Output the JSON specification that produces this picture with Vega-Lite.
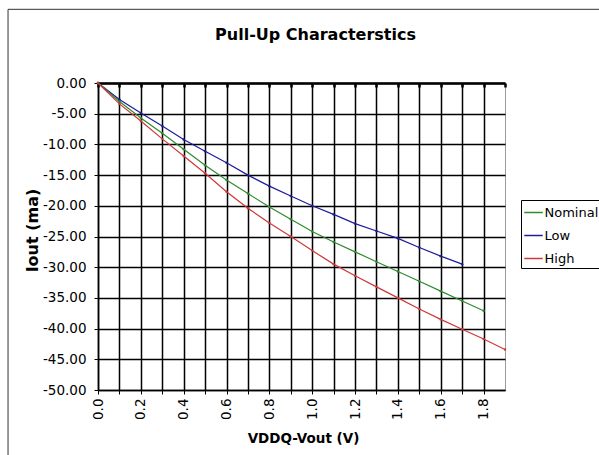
{
  "$schema": "https://vega.github.io/schema/vega-lite/v6.json",
  "width": 407,
  "height": 307,
  "autosize": {"type": "none"},
  "padding": {"left": 98, "top": 83, "right": 94, "bottom": 65},
  "background": "white",
  "title": {
    "text": "Pull-Up Characterstics",
    "font": "DejaVu Sans",
    "fontSize": 16,
    "fontWeight": "bold",
    "color": "black",
    "anchor": "middle",
    "frame": "group",
    "dx": 14,
    "baseline": "alphabetic",
    "offset": -47
  },
  "config": {
    "view": {"stroke": "#9a9a9a", "strokeWidth": 1},
    "axis": {
      "labelFont": "DejaVu Sans",
      "labelFontSize": 13.5,
      "labelColor": "black",
      "labelOverlap": false,
      "titleFont": "DejaVu Sans",
      "titleFontWeight": "bold",
      "titleColor": "black",
      "domainColor": "black",
      "tickColor": "black",
      "gridColor": "black",
      "gridOpacity": 1
    }
  },
  "resolve": {"axis": {"x": "independent"}},
  "layer": [
    {
      "data": {"values": [{}]},
      "mark": {"type": "rect", "fill": null, "stroke": "#333333", "strokeWidth": 1, "clip": false},
      "encoding": {
        "x": {"datum": -0.42, "type": "quantitative", "axis": null},
        "x2": {"datum": 2.6},
        "y": {
          "datum": 12,
          "type": "quantitative",
          "axis": {
            "values": [-50, -45, -40, -35, -30, -25, -20, -15, -10, -5, 0],
            "labelExpr": "replace(format(datum.value, '.2f'), '\u2212', '-')",
            "tickSize": 4,
            "labelPadding": 8,
            "grid": true,
            "gridWidth": 1.5,
            "domainWidth": 1.5,
            "title": "Iout (ma)",
            "titleFontSize": 16,
            "titleAngle": 270,
            "titleX": -66,
            "titleY": 147,
            "titleAlign": "center",
            "titleBaseline": "middle"
          }
        },
        "y2": {"datum": -70}
      }
    },
    {
      "data": {"name": "curves"},
      "mark": {"type": "line", "strokeWidth": 1.2, "point": {"filled": true, "size": 6}},
      "encoding": {
        "x": {
          "field": "v",
          "type": "quantitative",
          "scale": {"domain": [0, 1.9], "nice": false, "zero": false},
          "axis": {
            "orient": "bottom",
            "values": [0, 0.1, 0.2, 0.3, 0.4, 0.5, 0.6, 0.7, 0.8, 0.9, 1.0, 1.1, 1.2, 1.3, 1.4, 1.5, 1.6, 1.7, 1.8],
            "labelExpr": "round(datum.value*10) % 2 == 0 ? format(datum.value, '.1f') : ''",
            "labelAngle": 270,
            "labelAlign": "right",
            "labelBaseline": "middle",
            "labelPadding": 4,
            "tickSize": 4,
            "tickWidth": 1,
            "grid": true,
            "gridWidth": 1.5,
            "domainWidth": 1.5,
            "title": "VDDQ-Vout (V)",
            "titleFontSize": 13.5,
            "titleX": 205,
            "titleY": 48,
            "titleAlign": "center",
            "titleBaseline": "middle"
          }
        },
        "y": {
          "field": "i",
          "type": "quantitative",
          "scale": {"domain": [-50, 0], "nice": false, "zero": false},
          "axis": {
            "values": [-50, -45, -40, -35, -30, -25, -20, -15, -10, -5, 0],
            "labelExpr": "replace(format(datum.value, '.2f'), '\u2212', '-')",
            "tickSize": 4,
            "labelPadding": 8,
            "grid": true,
            "gridWidth": 1.5,
            "domainWidth": 1.5,
            "title": "Iout (ma)",
            "titleFontSize": 16,
            "titleAngle": 270,
            "titleX": -66,
            "titleY": 147,
            "titleAlign": "center",
            "titleBaseline": "middle"
          }
        },
        "color": {
          "field": "series",
          "type": "nominal",
          "scale": {"domain": ["Nominal", "Low", "High"], "range": ["#2e8b2e", "#1c1c9c", "#d03838"]},
          "legend": {
            "orient": "none",
            "legendX": 423,
            "legendY": 117,
            "title": null,
            "strokeColor": "black",
            "fillColor": "white",
            "padding": 2.5,
            "symbolType": "stroke",
            "symbolSize": 340,
            "symbolStrokeWidth": 1.5,
            "labelFont": "DejaVu Sans",
            "labelFontSize": 13,
            "labelColor": "black",
            "labelOffset": 1,
            "rowPadding": 6
          }
        }
      }
    },
    {
      "data": {"values": [{"v": 0}]},
      "mark": {"type": "point", "opacity": 0},
      "encoding": {
        "x": {
          "field": "v",
          "type": "quantitative",
          "axis": {
            "orient": "top",
            "values": [0, 0.1, 0.2, 0.3, 0.4, 0.5, 0.6, 0.7, 0.8, 0.9, 1.0, 1.1, 1.2, 1.3, 1.4, 1.5, 1.6, 1.7, 1.8, 1.9],
            "labels": false,
            "ticks": true,
            "tickSize": -4,
            "tickWidth": 2.5,
            "domainWidth": 2.5,
            "grid": false,
            "title": null
          }
        }
      }
    }
  ],
  "datasets": {
    "curves": [
      {"series": "Low", "v": 0.0, "i": 0},
      {"series": "Low", "v": 0.1, "i": -2.7},
      {"series": "Low", "v": 0.2, "i": -4.9},
      {"series": "Low", "v": 0.3, "i": -7.0},
      {"series": "Low", "v": 0.4, "i": -9.2},
      {"series": "Low", "v": 0.5, "i": -11.1},
      {"series": "Low", "v": 0.6, "i": -13.0},
      {"series": "Low", "v": 0.7, "i": -15.0},
      {"series": "Low", "v": 0.8, "i": -16.8},
      {"series": "Low", "v": 0.9, "i": -18.4},
      {"series": "Low", "v": 1.0, "i": -20.0},
      {"series": "Low", "v": 1.1, "i": -21.4},
      {"series": "Low", "v": 1.2, "i": -22.9},
      {"series": "Low", "v": 1.3, "i": -24.1},
      {"series": "Low", "v": 1.4, "i": -25.3},
      {"series": "Low", "v": 1.5, "i": -26.8},
      {"series": "Low", "v": 1.6, "i": -28.2},
      {"series": "Low", "v": 1.7, "i": -29.5},
      {"series": "Nominal", "v": 0.0, "i": 0},
      {"series": "Nominal", "v": 0.1, "i": -3.0},
      {"series": "Nominal", "v": 0.2, "i": -5.7},
      {"series": "Nominal", "v": 0.3, "i": -8.2},
      {"series": "Nominal", "v": 0.4, "i": -10.8},
      {"series": "Nominal", "v": 0.5, "i": -13.4},
      {"series": "Nominal", "v": 0.6, "i": -15.8},
      {"series": "Nominal", "v": 0.7, "i": -18.0},
      {"series": "Nominal", "v": 0.8, "i": -20.2},
      {"series": "Nominal", "v": 0.9, "i": -22.2},
      {"series": "Nominal", "v": 1.0, "i": -24.2},
      {"series": "Nominal", "v": 1.1, "i": -25.9},
      {"series": "Nominal", "v": 1.2, "i": -27.5},
      {"series": "Nominal", "v": 1.3, "i": -29.1},
      {"series": "Nominal", "v": 1.4, "i": -30.7},
      {"series": "Nominal", "v": 1.5, "i": -32.3},
      {"series": "Nominal", "v": 1.6, "i": -33.9},
      {"series": "Nominal", "v": 1.7, "i": -35.5},
      {"series": "Nominal", "v": 1.8, "i": -37.1},
      {"series": "High", "v": 0.0, "i": 0},
      {"series": "High", "v": 0.1, "i": -3.4},
      {"series": "High", "v": 0.2, "i": -6.2},
      {"series": "High", "v": 0.3, "i": -9.1},
      {"series": "High", "v": 0.4, "i": -11.9},
      {"series": "High", "v": 0.5, "i": -14.7},
      {"series": "High", "v": 0.6, "i": -17.7},
      {"series": "High", "v": 0.7, "i": -20.4},
      {"series": "High", "v": 0.8, "i": -22.8},
      {"series": "High", "v": 0.9, "i": -25.0},
      {"series": "High", "v": 1.0, "i": -27.3},
      {"series": "High", "v": 1.1, "i": -29.5},
      {"series": "High", "v": 1.2, "i": -31.4},
      {"series": "High", "v": 1.3, "i": -33.2},
      {"series": "High", "v": 1.4, "i": -35.0},
      {"series": "High", "v": 1.5, "i": -36.8},
      {"series": "High", "v": 1.6, "i": -38.5},
      {"series": "High", "v": 1.7, "i": -40.1},
      {"series": "High", "v": 1.8, "i": -41.7},
      {"series": "High", "v": 1.9, "i": -43.4}
    ]
  }
}
